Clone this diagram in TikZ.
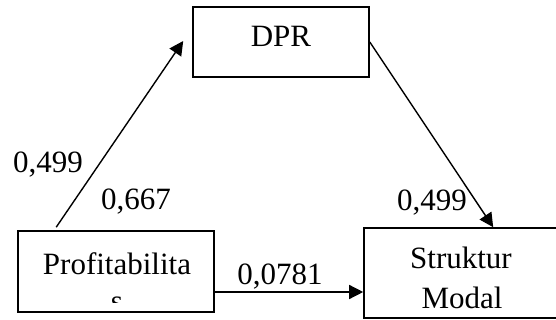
\documentclass[tikz,border=0pt]{standalone}
\usepackage{fontspec}
\setmainfont{Liberation Serif}
\usetikzlibrary{positioning,arrows.meta,calc}
\newcommand{\diagfont}{\fontsize{15.5}{18.5}\selectfont}
\tikzset{
  varbox/.style={draw=black,line width=0.8pt,inner sep=0pt},
  boxtext/.style={font=\diagfont,anchor=base,inner sep=0pt},
  coef/.style={font=\diagfont,anchor=base,inner sep=0pt},
  arrow/.style={-{Triangle[length=7pt,width=7pt]},line width=0.7pt,draw=black}
}

\begin{document}
\begin{tikzpicture}[x=0.5pt,y=-0.5pt]
  \useasboundingbox (0,0) rectangle (556,320);

  % variable boxes
  \node[varbox, minimum width=88pt, minimum height=35pt] (dpr) at (281,42) {};
  \node[varbox, minimum width=98pt, minimum height=40.5pt] (prof) at (116,271.5) {};
  \node[varbox, minimum width=97pt, minimum height=45pt] (struk) at (461,273) {};

  \node[boxtext] (dprtxt) at (281,47) {DPR};
  \node[boxtext] (proftxt) at (117,274) {Profitabilita};
  \begin{scope}
    \clip (18,231) rectangle (214,302);
    \node[boxtext] (proftxt2) at (117,311) {s};
  \end{scope}
  \node[boxtext] (struktxt) at (461,268) {Struktur};
  \node[boxtext] (modaltxt) at (462,308) {Modal};

  % paths
  \coordinate (profout) at ([yshift=-10.25pt]prof.east);
  \draw[arrow] ([xshift=19.5pt,yshift=1.5pt]prof.north west) -- ([xshift=-4.5pt,yshift=0.5pt]dpr.west);
  \draw[arrow] (dpr.east) -- ([xshift=65pt]struk.north west);
  \draw[arrow] (profout) -- (profout -| struk.west);

  % coefficients
  \node[coef] (c1) at (48,173) {0,499};
  \node[coef] (c2) at (136,210) {0,667};
  \node[coef] (c3) at (432,211) {0,499};
  \node[coef] (c4) at (280,284) {0,0781};
\end{tikzpicture}
\end{document}
